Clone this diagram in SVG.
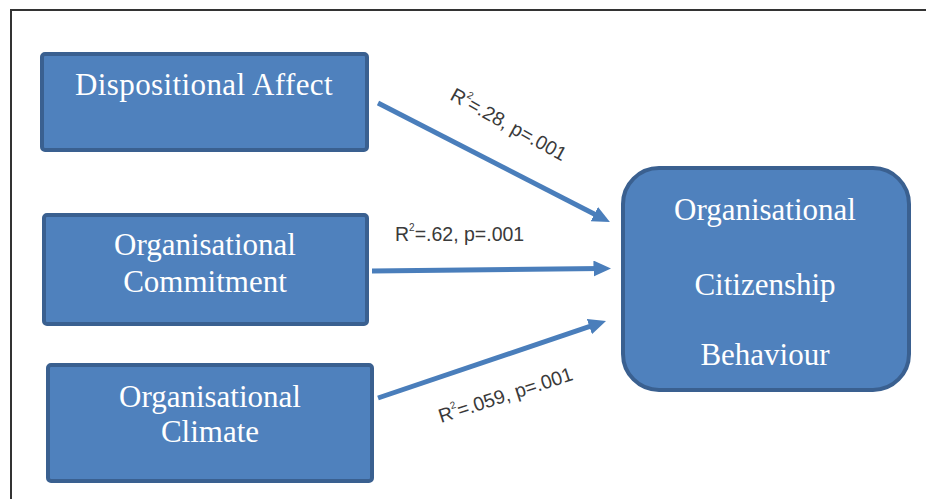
<svg xmlns="http://www.w3.org/2000/svg" width="926" height="499" viewBox="0 0 926 499">
<style>
.box{fill:#4F81BD;stroke:#3A6090;stroke-width:4}
.t{font-family:"Liberation Serif","Times New Roman",serif;font-size:31px;fill:#FFFFFF;text-anchor:middle}
.lbl{font-family:"Liberation Sans",Arial,sans-serif;font-size:19.5px;fill:#3a3a3a}
.sup{font-size:10px}
.arr{stroke:#4A7EBB;stroke-width:5;fill:none;marker-end:url(#ah)}
</style>
<defs>
<marker id="ah" markerWidth="5" markerHeight="4" refX="1.5" refY="1.6" orient="auto" markerUnits="strokeWidth">
<path d="M0,0 L3.5,1.6 L0,3.2 z" fill="#4A7EBB"/>
</marker>
</defs>
<rect width="926" height="499" fill="#FFFFFF"/>
<path d="M11,499 L11,10 L926,10" fill="none" stroke="#333" stroke-width="2"/>
<g id="connectors">
<line class="arr" x1="378" y1="103" x2="601" y2="217.5"/>
<line class="arr" x1="372" y1="271" x2="601" y2="268.5"/>
<line class="arr" x1="378" y1="398" x2="596.5" y2="324.2"/>
<text class="lbl" transform="translate(449,99) rotate(29)">R<tspan class="sup" dy="-10">2</tspan><tspan dy="10">=.28, p=.001</tspan></text>
<text class="lbl" x="395" y="241">R<tspan class="sup" dy="-10">2</tspan><tspan dy="10">=.62, p=.001</tspan></text>
<text class="lbl" transform="translate(441,423) rotate(-18)">R<tspan class="sup" dy="-10">2</tspan><tspan dy="10">=.059, p=.001</tspan></text>
</g>
<g id="dispositional-affect">
<rect class="box" x="42" y="54" width="325" height="96" rx="3"/>
<text class="t" x="204" y="95" letter-spacing="0.4">Dispositional Affect</text>
</g>
<g id="organisational-commitment">
<rect class="box" x="44" y="215" width="323" height="109" rx="3"/>
<text class="t" x="205" y="255">Organisational</text>
<text class="t" x="205" y="292">Commitment</text>
</g>
<g id="organisational-climate">
<rect class="box" x="48" y="365" width="324" height="116" rx="3"/>
<text class="t" x="210" y="407">Organisational</text>
<text class="t" x="210" y="442">Climate</text>
</g>
<g id="ocb">
<rect class="box" x="623" y="168" width="286" height="222" rx="36"/>
<text class="t" x="765" y="220">Organisational</text>
<text class="t" x="765" y="295">Citizenship</text>
<text class="t" x="765" y="365">Behaviour</text>
</g>
</svg>
